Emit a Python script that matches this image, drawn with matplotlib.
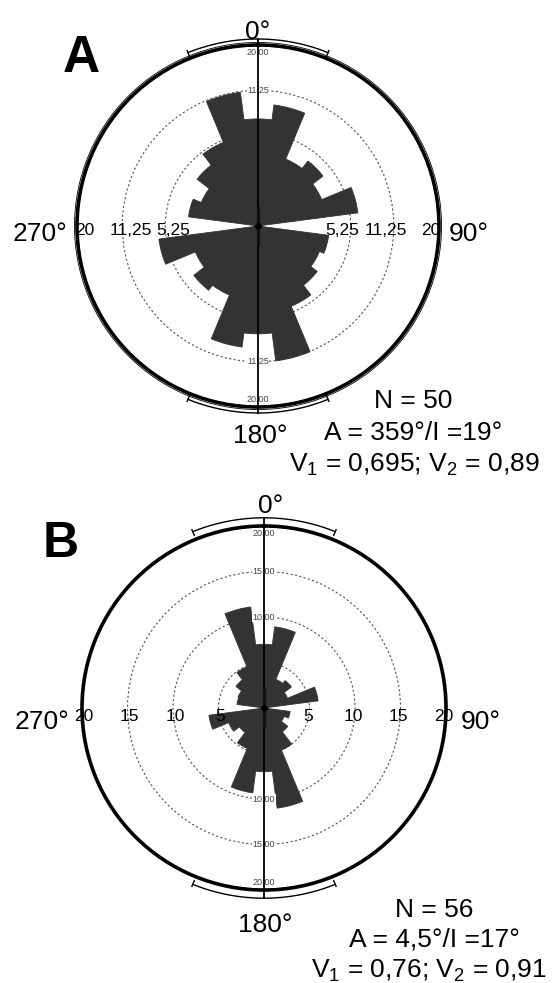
import numpy as np
import matplotlib
matplotlib.use("Agg")
import matplotlib.pyplot as plt

plt.rcParams['font.family'] = ['Liberation Sans', 'DejaVu Sans']

# 15-degree bins, centres clockwise from north
directions = np.arange(0, 360, 15)

# panel A (equal-area scale), panel B (linear scale)
freq_a = [7.0, 9.1, 3.2, 4.1, 2.9, 6.2, 0.0, 3.1, 2.7, 3.4, 4.6, 11.3,
          7.1, 9.1, 3.4, 4.0, 2.8, 6.1, 0.0, 3.0, 2.3, 3.6, 5.0, 11.1]
freq_b = [7.0, 9.0, 3.4, 3.8, 2.8, 6.0, 0.0, 2.9, 2.4, 3.3, 5.0, 11.1,
          7.0, 9.4, 4.8, 3.4, 4.2, 6.1, 0.0, 3.0, 3.1, 3.9, 4.9, 11.2]

rings_a = [5.25, 11.25, 20]
rings_b = [5, 10, 15, 20]
ring_text_a = ['5,25', '11,25', '20']
ring_text_b = ['5', '10', '15', '20']

stats_a = ['N = 50', 'A = 359°/I =19°',
           r'V$_\mathregular{1}$ = 0,695; V$_\mathregular{2}$ = 0,89']
stats_b = ['N = 56', 'A = 4,5°/I =17°',
           r'V$_\mathregular{1}$ = 0,76; V$_\mathregular{2}$ = 0,91']

RMAX = 20
BAR_COLOR = '#333333'
W, H = 553, 983


def sqrt_fwd(x):
    return np.sqrt(np.clip(x, 0, None))


def sqrt_inv(x):
    return np.square(x)


def pt(f, deg):
    # point on the rose in axes fraction, f = fraction of outer radius
    a = np.radians(deg)
    return 0.5 + 0.5 * f * np.sin(a), 0.5 + 0.5 * f * np.cos(a)


def draw_rose(ax, freq, rings, ring_text, equal_area, arc_r, arc_half, lbl_off, lbl_dy):
    ax.set_theta_zero_location('N')
    ax.set_theta_direction(-1)
    if equal_area:
        ax.set_rscale('function', functions=(sqrt_fwd, sqrt_inv))
        frac = lambda v: np.sqrt(v / RMAX)
    else:
        frac = lambda v: v / RMAX
    ax.set_rlim(0, RMAX)

    ax.bar(np.radians(directions), freq, width=np.radians(15), bottom=0,
           color=BAR_COLOR, edgecolor=BAR_COLOR, linewidth=0.6, zorder=2)

    ax.set_xticks([])
    ax.set_yticks(rings[:-1])
    ax.set_yticklabels([])
    ax.yaxis.grid(True, color='#555555', linestyle=(0, (2, 2)), linewidth=0.8)
    ax.spines['polar'].set_linewidth(2.6)

    # N-S axis line
    ax.plot([0.5, 0.5], [0.5 - 0.5 * arc_r, 0.5 + 0.5 * arc_r], transform=ax.transAxes,
            color='black', lw=1.3, clip_on=False, zorder=6)
    ax.plot([0.5, 0.5], [0.45, 0.55], transform=ax.transAxes,
            color='#111111', lw=2.4, zorder=6)
    ax.plot([0.5], [0.5], transform=ax.transAxes, marker='D', ms=3.5,
            color='black', zorder=7)

    # confidence brackets at top and bottom
    t = np.linspace(-arc_half, arc_half, 80)
    for base in (0, 180):
        xs, ys = pt(arc_r, base + t)
        ax.plot(xs, ys, transform=ax.transAxes, color='black', lw=1.0, clip_on=False)
        for end in (-arc_half, arc_half):
            x0, y0 = pt(arc_r - 0.022, base + end)
            x1, y1 = pt(arc_r + 0.012, base + end)
            ax.plot([x0, x1], [y0, y1], transform=ax.transAxes, color='black',
                    lw=1.0, clip_on=False)

    # ring values on the E-W line
    for v, s in zip(rings, ring_text):
        f = frac(v) + lbl_off
        for side in (-1, 1):
            ax.text(0.5 + side * 0.5 * f, 0.5 - lbl_dy, s, transform=ax.transAxes,
                    ha='center', va='center', fontsize=12.5, zorder=8)

    # small scale values on the N-S line (innermost ring left unlabelled)
    for v in rings[1:]:
        f = frac(v) if v < RMAX else 0.96
        for side in (-1, 1):
            ax.text(0.5, 0.5 + side * 0.5 * f, f'{v:.2f}', transform=ax.transAxes,
                    ha='center', va='center', fontsize=6.5, color='#444444', zorder=5,
                    bbox=dict(facecolor='white', edgecolor='none', pad=0.3))


def add_axes(cx, cy, r):
    return fig.add_axes([(cx - r) / W, 1 - (cy + r) / H, 2 * r / W, 2 * r / H],
                        projection='polar')


def ftext(x, y, s, **kw):
    fig.text(x / W, 1 - y / H, s, **kw)


fig = plt.figure(figsize=(W / 100, H / 100), dpi=100)

# panel A
axA = add_axes(258, 226, 181)
draw_rose(axA, freq_a, rings_a, ring_text_a, True, 1.033, 22, -0.045, 0.012)
circ = plt.Circle((0.5, 0.5), 0.5 * 1.014, transform=axA.transAxes, fill=False,
                  lw=0.6, color='black', clip_on=False)
axA.add_artist(circ)

ftext(63, 72, 'A', fontsize=37, fontweight='bold', ha='left', va='baseline')
ftext(258, 39, '0°', fontsize=19, ha='center', va='baseline')
ftext(260, 443, '180°', fontsize=19, ha='center', va='baseline')
ftext(67, 241, '270°', fontsize=19, ha='right', va='baseline')
ftext(449, 241, '90°', fontsize=19, ha='left', va='baseline')
for s, (x, y) in zip(stats_a, [(413, 408), (413, 440), (414, 472)]):
    ftext(x, y, s, fontsize=19, ha='center', va='baseline')

# panel B
axB = add_axes(264, 708, 182)
draw_rose(axB, freq_b, rings_b, ring_text_b, False, 1.045, 22, -0.01, 0.022)

ftext(43, 557, 'B', fontsize=36, fontweight='bold', ha='left', va='baseline')
ftext(271, 513, '0°', fontsize=19, ha='center', va='baseline')
ftext(265, 932, '180°', fontsize=19, ha='center', va='baseline')
ftext(69, 729, '270°', fontsize=19, ha='right', va='baseline')
ftext(461, 729, '90°', fontsize=19, ha='left', va='baseline')
for s, (x, y) in zip(stats_b, [(434, 917), (434, 947), (429, 977)]):
    ftext(x, y, s, fontsize=19, ha='center', va='baseline')

fig.savefig('out.png', dpi=100)
